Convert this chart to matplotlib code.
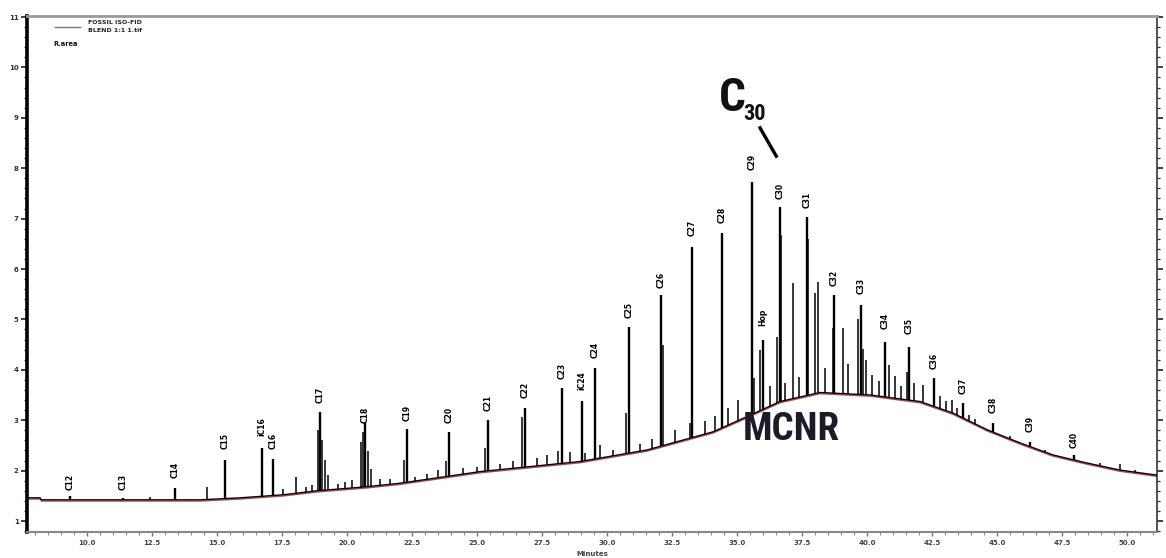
import numpy as np
import matplotlib
matplotlib.use("Agg")
import matplotlib.pyplot as plt
from matplotlib.ticker import MultipleLocator, FormatStrFormatter
import matplotlib.transforms as mtransforms
from matplotlib import font_manager

# ---------------- data ----------------
# baseline / unresolved complex mixture envelope (time in min, signal)
base_t = [7.69, 8.19, 8.25, 14.35, 15.88, 17.54, 18.85, 20.77, 22.04, 25.12,
          28.96, 31.54, 34.08, 35.38, 36.65, 38.19, 40.12, 42.04, 43.31,
          44.62, 45.88, 47.15, 48.46, 49.73, 51.15]
base_v = [1.46, 1.46, 1.42, 1.42, 1.46, 1.52, 1.60, 1.68, 1.75, 1.98,
          2.18, 2.41, 2.77, 3.07, 3.37, 3.55, 3.50, 3.37, 3.14,
          2.81, 2.55, 2.31, 2.15, 2.01, 1.91]

# labelled peaks: retention time, apex value, label, label centre value
peak_t = [9.35, 11.38, 13.38, 15.30, 16.73, 17.15, 18.96, 20.69, 22.31, 23.92,
          25.42, 26.85, 28.27, 29.04, 29.54, 30.85, 32.08, 33.27, 34.42,
          35.58, 36.00, 36.65, 37.69, 38.73, 39.77, 40.69, 41.62, 42.58,
          43.69, 44.85, 46.27, 47.96]
peak_v = [1.50, 1.46, 1.65, 2.21, 2.45, 2.23, 3.16, 2.94, 2.83, 2.77,
          3.00, 3.24, 3.63, 3.39, 4.04, 4.85, 5.48, 6.44, 6.71,
          7.73, 4.59, 7.23, 7.03, 5.48, 5.29, 4.55, 4.45, 3.84,
          3.34, 2.94, 2.57, 2.31]
peak_lab = ["C12", "C13", "C14", "C15", "iC16", "C16", "C17", "C18", "C19", "C20",
            "C21", "C22", "C23", "iC24", "C24", "C25", "C26", "C27", "C28",
            "C29", "Hop", "C30", "C31", "C32", "C33", "C34", "C35", "C36",
            "C37", "C38", "C39", "C40"]
lab_v = [1.77, 1.77, 2.01, 2.59, 2.87, 2.59, 3.50, 3.10, 3.14, 3.10,
         3.34, 3.60, 3.98, 3.78, 4.39, 5.19, 5.78, 6.81, 7.07,
         8.12, 5.05, 7.55, 7.37, 5.82, 5.66, 4.97, 4.87, 4.17,
         3.68, 3.30, 2.92, 2.61]

# unlabelled minor peaks: retention time, height above baseline
minor_t = [12.42, 14.62, 17.54, 18.04, 18.42, 18.65, 18.88, 19.04, 19.15, 19.27,
           19.65, 19.92, 20.19, 20.54, 20.62, 20.81, 20.92, 21.27, 21.65, 22.19,
           22.62, 23.08, 23.50, 23.81, 24.46, 25.00, 25.31, 25.88, 26.38, 26.73,
           27.31, 27.69, 28.12, 28.58, 29.15, 29.73, 30.23, 30.73, 31.27, 31.73,
           32.15, 32.62, 33.19, 33.77, 34.15, 34.65, 35.04, 35.65, 35.88, 36.27,
           36.54, 36.69, 36.85, 37.15, 37.38, 37.73, 38.00, 38.12, 38.38, 38.69,
           39.08, 39.27, 39.65, 39.85, 39.96, 40.19, 40.46, 40.85, 41.08, 41.31,
           41.54, 41.81, 42.15, 42.81, 43.04, 43.27, 43.46, 43.92, 44.15, 45.50,
           46.85, 48.96, 49.73, 50.30]
minor_h = [0.05, 0.25, 0.12, 0.33, 0.10, 0.12, 1.20, 1.00, 0.60, 0.30,
           0.10, 0.12, 0.15, 0.90, 1.10, 0.70, 0.35, 0.12, 0.10, 0.45,
           0.08, 0.10, 0.15, 0.30, 0.12, 0.10, 0.45, 0.12, 0.15, 1.00,
           0.15, 0.20, 0.25, 0.20, 0.15, 0.25, 0.12, 0.80, 0.15, 0.20,
           2.00, 0.25, 0.30, 0.25, 0.30, 0.35, 0.40, 0.70, 1.20, 0.40,
           1.30, 3.30, 0.35, 2.30, 0.40, 3.10, 2.00, 2.20, 0.50, 1.30,
           1.30, 0.60, 1.50, 0.90, 0.70, 0.40, 0.30, 0.65, 0.45, 0.25,
           0.55, 0.35, 0.35, 0.25, 0.20, 0.25, 0.15, 0.12, 0.10, 0.05,
           0.05, 0.05, 0.12, 0.04]

x_major = 2.5
y_ticks = list(range(1, 12))

# ---------------- fonts ----------------
installed = {f.name for f in font_manager.fontManager.ttflist}
narrow_font = None
for cand in ["Liberation Sans Narrow", "Roboto Condensed", "DejaVu Sans Condensed",
             "Open Sans Condensed", "Liberation Sans"]:
    if cand in installed:
        narrow_font = cand
        break
if narrow_font is None:
    narrow_font = "DejaVu Sans"
is_narrow = narrow_font != "Liberation Sans" and narrow_font != "DejaVu Sans"

# ---------------- figure ----------------
W, H = 1166, 558
fig = plt.figure(figsize=(W / 100, H / 100), dpi=100)
ax = fig.add_axes([27 / W, (H - 532) / H, (1157 - 27) / W, (532 - 16) / H])
ax.set_xlim(7.69, 51.15)
ax.set_ylim(0.782, 11.02)

bt = np.array(base_t)
bv = np.array(base_v)

# red second trace slightly under black one
red_off = mtransforms.offset_copy(ax.transData, fig=fig, x=0, y=-1.2, units="dots")
ax.plot(bt, bv, color="#b24a4a", lw=1.0, transform=red_off, zorder=2)
ax.plot(bt, bv, color="black", lw=1.0, zorder=3)

# minor peaks
mt = np.array(minor_t)
mb = np.interp(mt, bt, bv)
ax.vlines(mt, mb, mb + np.array(minor_h), color="black", lw=1.1, zorder=3)

# labelled peaks
pt = np.array(peak_t)
pb = np.interp(pt, bt, bv)
ax.vlines(pt, pb, np.array(peak_v), color="black", lw=1.7, zorder=4)

for t, lv, lab in zip(peak_t, lab_v, peak_lab):
    ax.text(t, lv, lab, rotation=90, ha="center", va="center",
            fontsize=5.5, fontweight="bold", color="black", zorder=5)

# C30 annotation
c_size = 34 if is_narrow else 29
s_size = 16 if is_narrow else 13
m_size = 28 if is_narrow else 22
ax.plot([35.85, 36.54], [8.83, 8.21], color="black", lw=2.4, solid_capstyle="butt")
fig.text(732 / W, 1 - 98 / H, "C", fontsize=c_size, fontweight="bold",
         family=narrow_font, ha="center", va="center", color="#111111")
fig.text(755 / W, 1 - 114 / H, "30", fontsize=s_size, fontweight="bold",
         family=narrow_font, ha="center", va="center", color="#111111")

# MCNR label
fig.text(791 / W, 1 - 430 / H, "MCNR", fontsize=m_size, fontweight="bold",
         family=narrow_font, ha="center", va="center", color="#1c1c28")

# legend block
fig.lines.append(plt.Line2D([55 / W, 80 / W], [1 - 27 / H, 1 - 27 / H],
                            transform=fig.transFigure, color="#777777", lw=1.0))
fig.text(88 / W, 1 - 22 / H, "FOSSIL ISO-FID", fontsize=4.5, fontweight="bold",
         va="center", ha="left", color="#222222")
fig.text(88 / W, 1 - 30 / H, "BLEND 1:1 1.tif", fontsize=4.5, fontweight="bold",
         va="center", ha="left", color="#222222")
fig.text(53 / W, 1 - 44 / H, "R.area", fontsize=4.8, fontweight="bold",
         va="center", ha="left", color="#111111")

# axes styling
ax.xaxis.set_major_locator(MultipleLocator(x_major))
ax.xaxis.set_minor_locator(MultipleLocator(0.5))
ax.xaxis.set_major_formatter(FormatStrFormatter("%.1f"))
ax.set_yticks(y_ticks)
ax.set_yticklabels([str(v) for v in y_ticks])
ax.yaxis.set_minor_locator(MultipleLocator(0.2))

ax.tick_params(axis="x", which="major", length=3, width=1.0, color="#777777",
               labelsize=5, labelcolor="#444444", pad=3)
ax.tick_params(axis="x", which="minor", length=2, width=0.8, color="#888888")
ax.tick_params(axis="y", which="major", length=4, width=1.2, color="#222222",
               labelsize=5, labelcolor="#333333", pad=2, right=True, labelright=True)
ax.tick_params(axis="y", which="minor", length=2.5, width=0.9, color="#333333",
               right=True)
for lab in ax.get_xticklabels() + ax.get_yticklabels():
    lab.set_fontweight("bold")

ax.spines["left"].set_linewidth(2.6)
ax.spines["left"].set_color("black")
ax.spines["bottom"].set_linewidth(1.5)
ax.spines["bottom"].set_color("#888888")
ax.spines["top"].set_linewidth(2.0)
ax.spines["top"].set_color("#9a9a9a")
ax.spines["right"].set_linewidth(1.3)
ax.spines["right"].set_color("#444444")

ax.set_xlabel("Minutes", fontsize=5, fontweight="bold", color="#444444", labelpad=3)

fig.savefig("out.png", dpi=100)
